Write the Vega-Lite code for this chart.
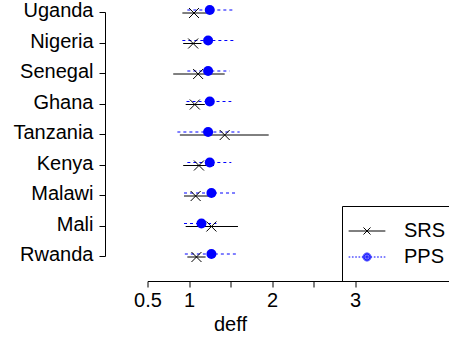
{
  "$schema": "https://vega.github.io/schema/vega-lite/v6.json",
  "width": 301.5,
  "height": 244,
  "autosize": {"type": "none"},
  "padding": {"left": 147.5, "top": 12, "right": 0, "bottom": 83},
  "background": "white",
  "view": {"stroke": null},
  "config": {
    "font": "Liberation Sans",
    "axis": {"labelFont": "Liberation Sans", "titleFont": "Liberation Sans", "labelColor": "black", "titleColor": "black", "domainColor": "black", "tickColor": "black", "grid": false}
  },
  "data": {
    "values": [
      {"country": "Uganda", "method": "SRS", "deff": 1.06, "lo": 0.92, "hi": 1.21},
      {"country": "Uganda", "method": "PPS", "deff": 1.25, "lo": 0.98, "hi": 1.53},
      {"country": "Nigeria", "method": "SRS", "deff": 1.05, "lo": 0.93, "hi": 1.15},
      {"country": "Nigeria", "method": "PPS", "deff": 1.23, "lo": 0.92, "hi": 1.54},
      {"country": "Senegal", "method": "SRS", "deff": 1.11, "lo": 0.81, "hi": 1.43},
      {"country": "Senegal", "method": "PPS", "deff": 1.23, "lo": 0.98, "hi": 1.49},
      {"country": "Ghana", "method": "SRS", "deff": 1.07, "lo": 0.96, "hi": 1.19},
      {"country": "Ghana", "method": "PPS", "deff": 1.25, "lo": 0.97, "hi": 1.51},
      {"country": "Tanzania", "method": "SRS", "deff": 1.43, "lo": 0.89, "hi": 1.96},
      {"country": "Tanzania", "method": "PPS", "deff": 1.23, "lo": 0.86, "hi": 1.61},
      {"country": "Kenya", "method": "SRS", "deff": 1.12, "lo": 0.93, "hi": 1.3},
      {"country": "Kenya", "method": "PPS", "deff": 1.25, "lo": 0.98, "hi": 1.51},
      {"country": "Malawi", "method": "SRS", "deff": 1.08, "lo": 0.94, "hi": 1.23},
      {"country": "Malawi", "method": "PPS", "deff": 1.27, "lo": 0.94, "hi": 1.59},
      {"country": "Mali", "method": "SRS", "deff": 1.27, "lo": 0.96, "hi": 1.59},
      {"country": "Mali", "method": "PPS", "deff": 1.15, "lo": 0.94, "hi": 1.33},
      {"country": "Rwanda", "method": "SRS", "deff": 1.09, "lo": 0.98, "hi": 1.2},
      {"country": "Rwanda", "method": "PPS", "deff": 1.27, "lo": 0.95, "hi": 1.59}
    ]
  },
  "encoding": {
    "y": {
      "field": "country", "type": "nominal",
      "scale": {"type": "point", "padding": 0, "domain": ["Uganda", "Nigeria", "Senegal", "Ghana", "Tanzania", "Kenya", "Malawi", "Mali", "Rwanda"]},
      "axis": {"title": null, "offset": 42.5, "tickSize": 6, "labelPadding": 6, "labelFontSize": 20, "labelBaseline": "middle", "labelOffset": -1.5, "domainWidth": 1, "tickWidth": 1}
    }
  },
  "layer": [
    {
      "transform": [{"filter": "datum.method === 'SRS'"}],
      "mark": {"type": "rule", "color": "black", "strokeWidth": 1, "yOffset": 1},
      "encoding": {
        "x": {"field": "lo", "type": "quantitative", "scale": {"domain": [0.5, 4.132], "nice": false, "zero": false},
          "axis": {"title": "deff", "values": [0.5, 1, 1.5, 2, 2.5, 3], "format": "~g", "labelExpr": "datum.value == 1.5 || datum.value == 2.5 ? '' : datum.label", "offset": 25, "tickSize": 6, "labelPadding": 3, "labelFontSize": 20, "labelFlush": false, "labelOverlap": false, "titleFontSize": 20, "titleFontWeight": "normal", "titleX": 82.5, "titleY": 49, "titleAlign": "center", "titleBaseline": "alphabetic", "titleAnchor": null, "domainWidth": 1, "tickWidth": 1}},
        "x2": {"field": "hi"}
      }
    },
    {
      "transform": [{"filter": "datum.method === 'PPS'"}],
      "mark": {"type": "rule", "color": "blue", "strokeWidth": 1, "strokeDash": [3, 3], "yOffset": -2},
      "encoding": {
        "x": {"field": "lo", "type": "quantitative"},
        "x2": {"field": "hi"}
      }
    },
    {
      "transform": [{"filter": "datum.method === 'SRS'"}],
      "mark": {"type": "point", "shape": "M-1,-1L1,1M-1,1L1,-1", "size": 100, "color": "black", "filled": false, "strokeWidth": 1, "opacity": 1, "yOffset": 1},
      "encoding": {
        "x": {"field": "deff", "type": "quantitative"}
      }
    },
    {
      "transform": [{"filter": "datum.method === 'PPS'"}],
      "mark": {"type": "point", "shape": "circle", "size": 100, "filled": true, "color": "blue", "opacity": 1, "yOffset": -2},
      "encoding": {
        "x": {"field": "deff", "type": "quantitative"}
      }
    },
    {
      "transform": [{"filter": "false"}],
      "mark": {"type": "point", "size": 484, "filled": false, "strokeWidth": 1, "opacity": 1},
      "encoding": {
        "x": {"field": "deff", "type": "quantitative"},
        "color": {
          "field": "method", "type": "nominal",
          "scale": {"domain": ["SRS", "PPS"], "range": ["black", "blue"]},
          "legend": {
            "orient": "none", "legendX": 194.5, "legendY": 194, "title": null,
            "strokeColor": "black", "padding": 13.5, "symbolSize": 484, "labelOffset": 25.5,
            "labelFontSize": 20, "labelFont": "Liberation Sans", "labelColor": "black", "rowPadding": 4,
            "symbolStrokeWidth": 1, "symbolOpacity": 1
          }
        },
        "shape": {
          "field": "method", "type": "nominal",
          "scale": {"domain": ["SRS", "PPS"], "range": [
            "M-1.67,0H1.67M-0.32,-0.32L0.32,0.32M-0.32,0.32L0.32,-0.32",
            "M-1.67,0H-1.52M-1.37,0H-1.22M-1.07,0H-0.92M-0.77,0H-0.62M-0.47,0H-0.36M0.36,0H0.47M0.62,0H0.77M0.92,0H1.07M1.22,0H1.37M1.52,0H1.67M0.36,0A0.36,0.36,0,1,1,-0.36,0A0.36,0.36,0,1,1,0.36,0M0.27,0A0.27,0.27,0,1,1,-0.27,0A0.27,0.27,0,1,1,0.27,0M0.18,0A0.18,0.18,0,1,1,-0.18,0A0.18,0.18,0,1,1,0.18,0M0.09,0A0.09,0.09,0,1,1,-0.09,0A0.09,0.09,0,1,1,0.09,0M0.03,0A0.03,0.03,0,1,1,-0.03,0A0.03,0.03,0,1,1,0.03,0"
          ]},
          "legend": {
            "orient": "none", "legendX": 194.5, "legendY": 194, "title": null,
            "strokeColor": "black", "padding": 13.5, "symbolSize": 484, "labelOffset": 25.5,
            "labelFontSize": 20, "labelFont": "Liberation Sans", "labelColor": "black", "rowPadding": 4,
            "symbolStrokeWidth": 1, "symbolOpacity": 1
          }
        }
      }
    }
  ]
}
